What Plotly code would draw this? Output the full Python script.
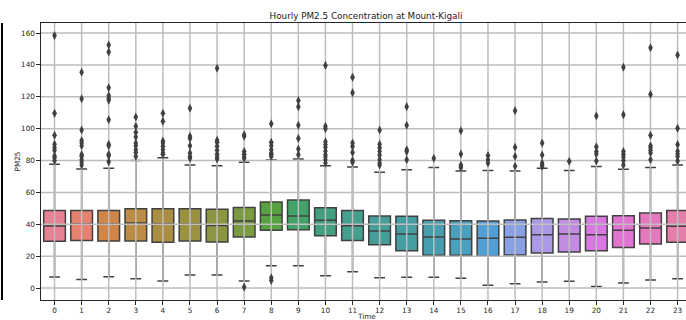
import math
import colorsys
import plotly.graph_objects as go

# Hour of day and the five-number summary of PM2.5 for each hour
hours = list(range(24))
q1 = [29.3, 29.9, 29.5, 29.5, 28.7, 29.5, 28.9, 32.0, 36.2, 36.6, 32.8, 29.9,
      27.2, 23.4, 20.5, 20.5, 19.9, 20.7, 22.0, 22.6, 23.4, 25.5, 27.6, 28.7]
median = [38.9, 40.2, 40.2, 40.8, 40.4, 40.2, 39.3, 42.0, 45.8, 45.2, 42.5, 39.1,
          35.8, 33.9, 32.0, 30.8, 31.2, 31.8, 33.5, 33.9, 33.5, 36.2, 37.7, 38.7]
q3 = [48.7, 48.7, 48.7, 49.8, 49.8, 49.8, 49.4, 50.6, 54.0, 55.2, 50.4, 48.7,
      45.2, 45.0, 42.5, 42.3, 42.0, 42.7, 43.7, 43.3, 45.0, 45.4, 47.1, 48.7]
whisker_low = [6.9, 5.4, 7.1, 5.9, 4.4, 8.2, 8.2, 4.4, 14.0, 14.0, 7.7, 10.3,
               6.5, 6.7, 6.7, 6.1, 1.7, 2.7, 3.8, 4.2, 1.0, 3.1, 5.0, 5.9]
whisker_high = [77.6, 74.7, 75.1, 80.1, 81.8, 77.2, 76.8, 78.9, 80.3, 81.0, 76.8, 75.9,
                72.6, 74.3, 75.7, 73.4, 73.8, 73.4, 75.1, 73.8, 76.2, 74.5, 75.7, 77.2]

# Readings beyond the whiskers, per hour
outliers = [
    [158.4, 109.6, 95.8, 90.2, 88.0, 86.5, 82.8, 81.8, 80.0],
    [135.4, 118.8, 99.2, 92.5, 91.0, 89.3, 83.7, 82.6, 80.5, 78.9, 77.2],
    [152.5, 148.1, 125.7, 120.7, 119.0, 117.8, 105.6, 90.2, 89.3, 83.9, 83.0, 79.3],
    [107.3, 101.5, 97.7, 94.8, 91.0, 89.3, 86.8, 85.1, 82.6],
    [109.6, 104.6, 92.3, 91.0, 88.9, 86.8, 84.7, 83.9],
    [112.8, 95.2, 93.9, 89.3, 84.7, 82.6, 81.4],
    [137.9, 92.7, 91.4, 88.9, 86.4, 83.9, 82.2, 81.0],
    [96.2, 95.2, 85.6, 83.9, 82.2, 81.4, 0.6],
    [103.1, 91.4, 89.3, 86.8, 84.7, 83.9, 82.6, 6.5, 4.8],
    [117.6, 113.8, 102.1, 93.9, 87.2, 83.7],
    [139.7, 101.5, 100.0, 91.8, 90.0, 88.3, 85.8, 83.7, 82.2, 80.5, 78.5],
    [132.2, 122.6, 91.0, 88.9, 85.1, 80.1, 78.9],
    [99.2, 90.2, 88.1, 85.8, 83.5, 80.5, 78.5, 77.2],
    [113.8, 102.1, 86.8, 85.6, 80.5],
    [81.4],
    [98.7, 84.1, 77.2, 76.4, 75.5],
    [83.1, 80.5, 78.5],
    [111.3, 88.3, 82.6, 76.4],
    [91.0, 83.5, 78.5, 77.2, 76.4],
    [79.5],
    [108.0, 88.7, 85.6, 84.1, 79.7],
    [138.5, 108.8, 85.6, 83.9, 82.2, 80.1, 77.2],
    [150.8, 121.5, 95.8, 89.3, 88.1, 86.4, 84.7, 80.5],
    [146.2, 100.2, 90.0, 85.8, 84.1, 82.6, 79.7],
]

y_ticks = [0, 20, 40, 60, 80, 100, 120, 140, 160]
x_range = [-0.5, 23.31]
y_range = [-7.5, 166.3]


# --- HUSL colour wheel (same maths as the husl library) ---
_M = [[3.2406, -1.5372, -0.4986],
      [-0.9689, 1.8758, 0.0415],
      [0.0557, -0.2040, 1.0570]]
_REF_U, _REF_V = 0.19784, 0.46834


def _max_chroma(L, H):
    hrad = math.radians(H)
    sin_h, cos_h = math.sin(hrad), math.cos(hrad)
    sub1 = (L + 16) ** 3 / 1560896.0
    sub2 = sub1 if sub1 > 0.008856 else L / 903.3
    result = float("inf")
    for m1, m2, m3 in _M:
        top = (0.99915 * m1 + 1.05122 * m2 + 1.14460 * m3) * sub2
        rbottom = 0.86330 * m3 - 0.17266 * m2
        lbottom = 0.12949 * m3 - 0.38848 * m1
        bottom = (rbottom * sin_h + lbottom * cos_h) * sub2
        for t in (0.0, 1.0):
            C = L * (top - 1.05122 * t) / (bottom + 0.17266 * sin_h * t)
            if 0.0 < C < result:
                result = C
    return result


def _f_inv(t):
    return t ** 3 if t ** 3 > 0.008856 else (116 * t - 16) / 903.3


def _from_linear(c):
    return 12.92 * c if c <= 0.0031308 else 1.055 * c ** (1 / 2.4) - 0.055


def husl_to_rgb(h, s, l):
    C = _max_chroma(l, h) / 100.0 * s
    hrad = math.radians(h)
    U, V = math.cos(hrad) * C, math.sin(hrad) * C
    var_y = _f_inv((l + 16) / 116.0)
    var_u = U / (13.0 * l) + _REF_U
    var_v = V / (13.0 * l) + _REF_V
    Y = var_y
    X = -(9.0 * Y * var_u) / ((var_u - 4.0) * var_v - var_u * var_v)
    Z = (9.0 * Y - 15.0 * var_v * Y - var_v * X) / (3.0 * var_v)
    rgb = [_from_linear(sum(a * b for a, b in zip(row, (X, Y, Z)))) for row in _M]
    return [min(max(c, 0.0), 1.0) for c in rgb]


def hour_palette(n, saturation=0.75):
    cols = []
    for i in range(n):
        h = ((i / n + 0.01) % 1) * 359
        r, g, b = husl_to_rgb(h, 0.9 * 99, 0.65 * 99)
        hh, ll, ss = colorsys.rgb_to_hls(r, g, b)
        cols.append(colorsys.hls_to_rgb(hh, ll, ss * saturation))
    return cols


def to_hex(c):
    return "#%02x%02x%02x" % tuple(int(round(v * 255)) for v in c)


palette = hour_palette(len(hours))
lum = min(colorsys.rgb_to_hls(*c)[1] for c in palette) * 0.6
edge = to_hex((lum, lum, lum))

fig = go.Figure()
for i, h in enumerate(hours):
    fig.add_trace(go.Box(
        x=[h], q1=[q1[i]], median=[median[i]], q3=[q3[i]],
        lowerfence=[whisker_low[i]], upperfence=[whisker_high[i]],
        width=0.8, whiskerwidth=0.5, boxpoints=False,
        fillcolor=to_hex(palette[i]),
        line=dict(color=edge, width=1.5),
        showlegend=False, hoverinfo="skip",
    ))

# grid lines, layered over the boxes but under the outlier markers
gx, gy = [], []
for h in hours:
    gx += [h, h, None]
    gy += [y_range[0], y_range[1], None]
for v in y_ticks:
    gx += [x_range[0], x_range[1], None]
    gy += [v, v, None]
fig.add_trace(go.Scatter(
    x=gx, y=gy, mode="lines", showlegend=False, hoverinfo="skip",
    line=dict(color="#bdbdbd", width=1.5),
))

fx, fy = [], []
for h, pts in zip(hours, outliers):
    fx += [h] * len(pts)
    fy += pts
fig.add_trace(go.Scatter(
    x=fx, y=fy, mode="markers", showlegend=False,
    marker=dict(symbol="diamond-tall", size=6.5, color=edge, line=dict(width=0)),
))

# dark edge on the far left of the canvas
fig.add_shape(type="line", xref="paper", yref="paper",
              x0=-0.0605, x1=-0.0605, y0=0, y1=1,
              line=dict(color="black", width=2))

font = "DejaVu Sans"
tick_font = dict(family=font, size=7.3, color="#262626")
fig.update_layout(
    width=686, height=320,
    margin=dict(l=41, r=0, t=23, b=20),
    paper_bgcolor="white", plot_bgcolor="white",
    boxmode="overlay",
    title=dict(text="Hourly PM2.5 Concentration at Mount-Kigali",
               x=366 / 686, xanchor="center", xref="container",
               y=1 - 16 / 320, yanchor="middle", yref="container",
               font=dict(family=font, size=8.8, color="#1a1a1a")),
    xaxis=dict(range=x_range, tickmode="array", tickvals=hours,
               ticktext=[str(h) for h in hours], showgrid=False, zeroline=False,
               showline=True, mirror=True, linecolor="#262626", linewidth=1.2,
               ticks="outside", ticklen=3.5, tickcolor="#262626", tickfont=tick_font),
    yaxis=dict(range=y_range, tickmode="array", tickvals=y_ticks,
               showgrid=False, zeroline=False,
               showline=True, linecolor="#262626", linewidth=1.2,
               ticks="outside", ticklen=3.5, tickcolor="#262626", tickfont=tick_font),
    annotations=[
        dict(text="PM25", textangle=-90, xref="paper", yref="paper",
             x=(17 - 41) / 645, y=0.5, xanchor="center", yanchor="middle",
             showarrow=False, font=tick_font),
        dict(text="Time", xref="paper", yref="paper",
             x=(366 - 41) / 645, y=(300 - 316) / 277, xanchor="center", yanchor="middle",
             showarrow=False, font=tick_font),
    ],
)

fig.write_html("out.html")
